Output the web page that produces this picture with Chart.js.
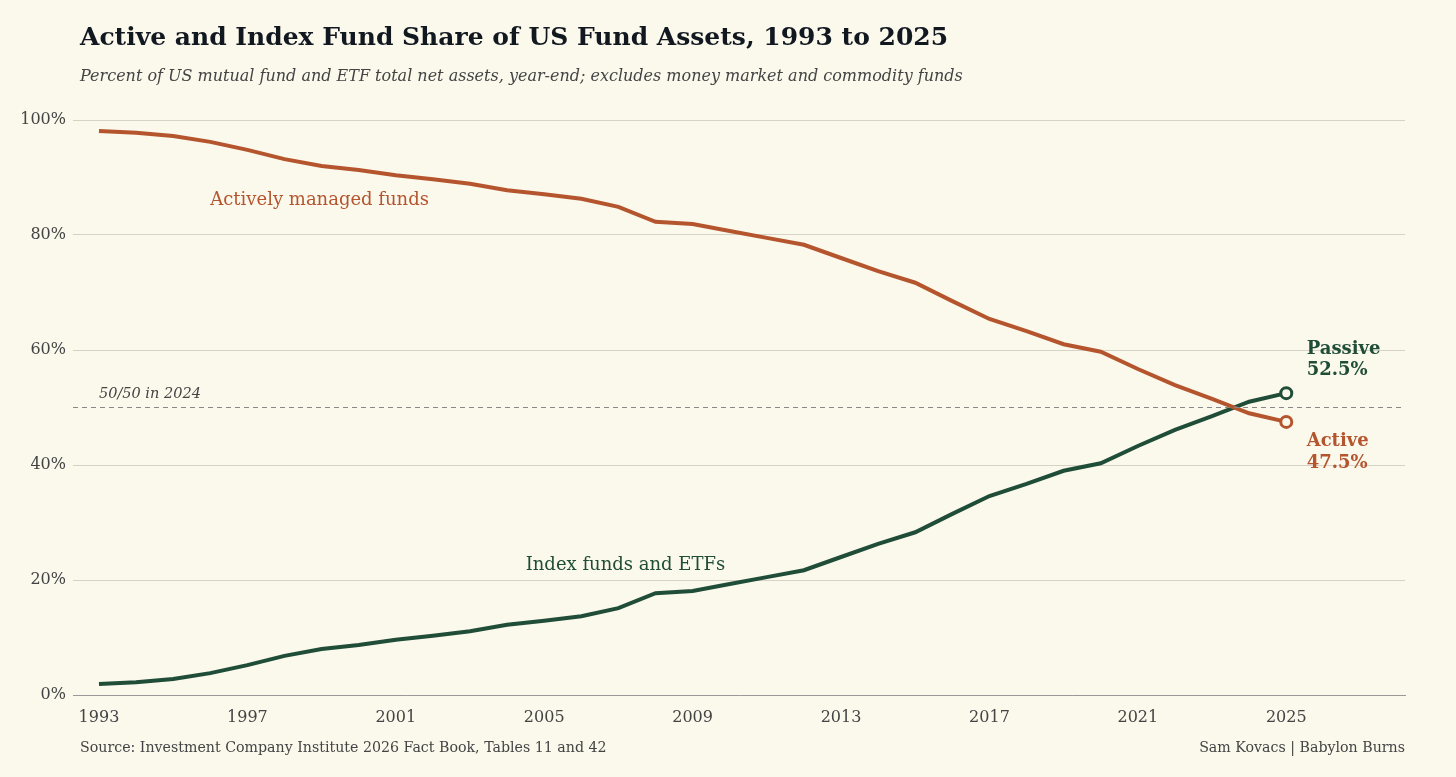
<!DOCTYPE html>
<html>
<head>
<meta charset="utf-8">
<script src="https://cdn.jsdelivr.net/npm/chart.js@4/dist/chart.umd.min.js"></script>
<style>
  body { margin: 0; background: #fbf8ec; font-family: "DejaVu Serif", serif; }
  #wrap { position: relative; width: 1456px; height: 777px; }
  canvas { position: absolute; left: 0; top: 0; }
  .txt { position: absolute; white-space: nowrap; }
  #title { left: 80px; top: 22px; font-size: 25px; font-weight: bold; color: #111820; }
  #subtitle { left: 80px; top: 66px; font-size: 16px; font-style: italic; color: #444; }
  #source { left: 80px; top: 739px; font-size: 14.2px; color: #444; }
  #credit { right: 51px; top: 739px; font-size: 14.2px; color: #444; }
</style>
</head>
<body>
<div id="wrap">
  <canvas id="chart" width="1456" height="777"></canvas>
  <div class="txt" id="title">Active and Index Fund Share of US Fund Assets, 1993 to 2025</div>
  <div class="txt" id="subtitle">Percent of US mutual fund and ETF total net assets, year-end; excludes money market and commodity funds</div>
  <div class="txt" id="source">Source: Investment Company Institute 2026 Fact Book, Tables 11 and 42</div>
  <div class="txt" id="credit">Sam Kovacs | Babylon Burns</div>
</div>
<script>
const years = [1993, 1994, 1995, 1996, 1997, 1998, 1999, 2000, 2001, 2002, 2003,
  2004, 2005, 2006, 2007, 2008, 2009, 2010, 2011, 2012, 2013, 2014, 2015,
  2016, 2017, 2018, 2019, 2020, 2021, 2022, 2023, 2024, 2025];
const activeShare = [98.1, 97.8, 97.2, 96.2, 94.8, 93.2, 92.0, 91.3, 90.4, 89.7, 88.9,
  87.8, 87.1, 86.3, 84.9, 82.3, 81.9, 80.7, 79.5, 78.3, 76.0, 73.7, 71.7,
  68.5, 65.4, 63.3, 61.0, 59.7, 56.7, 53.9, 51.5, 49.0, 47.5];
const passiveShare = [1.9, 2.2, 2.8, 3.8, 5.2, 6.8, 8.0, 8.7, 9.6, 10.3, 11.1,
  12.2, 12.9, 13.7, 15.1, 17.7, 18.1, 19.3, 20.5, 21.7, 24.0, 26.3, 28.3,
  31.5, 34.6, 36.7, 39.0, 40.3, 43.3, 46.1, 48.5, 51.0, 52.5];
const xTicks = [1993, 1997, 2001, 2005, 2009, 2013, 2017, 2021, 2025];
const yTicks = [0, 20, 40, 60, 80, 100];

const activeColor = "#b5552e";
const passiveColor = "#1f4d37";
const bg = "#fbf8ec";
const xMin = 1992.3, xMax = 2028.2;

function toPoints(values) {
  return years.map((y, i) => ({ x: y, y: values[i] }));
}
function lastPointOnly(n, r) {
  return (ctx) => (ctx.dataIndex === n - 1 ? r : 0);
}

const labelsPlugin = {
  id: "labels",
  afterDatasetsDraw(chart) {
    const { ctx, scales } = chart;
    const x = scales.x, y = scales.y;
    ctx.save();
    ctx.textBaseline = "middle";
    ctx.font = "18px 'DejaVu Serif'";
    ctx.fillStyle = activeColor;
    ctx.fillText("Actively managed funds", x.getPixelForValue(1996), y.getPixelForValue(86));
    ctx.fillStyle = passiveColor;
    ctx.fillText("Index funds and ETFs", x.getPixelForValue(2004.5), y.getPixelForValue(22.5));
    ctx.font = "italic 14.5px 'DejaVu Serif'";
    ctx.fillStyle = "#444";
    ctx.fillText("50/50 in 2024", x.getPixelForValue(1993), y.getPixelForValue(52.3));
    const lx = x.getPixelForValue(2025.55);
    ctx.font = "bold 18px 'DejaVu Serif'";
    ctx.fillStyle = passiveColor;
    ctx.fillText("Passive", lx, y.getPixelForValue(60.1));
    ctx.fillText("52.5%", lx, y.getPixelForValue(56.4));
    ctx.fillStyle = activeColor;
    ctx.fillText("Active", lx, y.getPixelForValue(44.1));
    ctx.fillText("47.5%", lx, y.getPixelForValue(40.3));
    ctx.restore();
  }
};

new Chart(document.getElementById("chart"), {
  type: "line",
  data: {
    datasets: [
      {
        data: [{ x: xMin, y: 50 }, { x: xMax, y: 50 }],
        borderColor: "#888",
        borderWidth: 1,
        borderDash: [5, 4],
        pointRadius: 0,
      },
      {
        data: toPoints(activeShare),
        borderColor: activeColor,
        borderWidth: 4,
        backgroundColor: bg,
        pointRadius: lastPointOnly(years.length, 5.5),
        pointBorderWidth: 3,
        pointBorderColor: activeColor,
        pointBackgroundColor: bg,
        tension: 0,
      },
      {
        data: toPoints(passiveShare),
        borderColor: passiveColor,
        borderWidth: 4,
        backgroundColor: bg,
        pointRadius: lastPointOnly(years.length, 5.5),
        pointBorderWidth: 3,
        pointBorderColor: passiveColor,
        pointBackgroundColor: bg,
        tension: 0,
      },
    ],
  },
  options: {
    responsive: false,
    animation: false,
    layout: { padding: { top: 120, right: 51, bottom: 52, left: 0 } },
    plugins: { legend: { display: false }, tooltip: { enabled: false } },
    scales: {
      x: {
        type: "linear",
        min: xMin,
        max: xMax,
        afterBuildTicks: (s) => { s.ticks = xTicks.map((v) => ({ value: v })); },
        afterFit: (s) => { s.height = 30; },
        grid: { display: false },
        border: { color: "#999", width: 1 },
        ticks: {
          color: "#444",
          font: { family: "DejaVu Serif", size: 16 },
          padding: 5,
          maxRotation: 0,
          callback: (v) => String(v),
        },
      },
      y: {
        min: 0,
        max: 100,
        afterBuildTicks: (s) => { s.ticks = yTicks.map((v) => ({ value: v })); },
        afterFit: (s) => { s.width = 73; },
        grid: { color: "#d6d3c6", drawTicks: false },
        border: { display: false },
        ticks: {
          color: "#444",
          font: { family: "DejaVu Serif", size: 16 },
          padding: 7,
          callback: (v) => v + "%",
        },
      },
    },
  },
  plugins: [labelsPlugin],
});
</script>
</body>
</html>
